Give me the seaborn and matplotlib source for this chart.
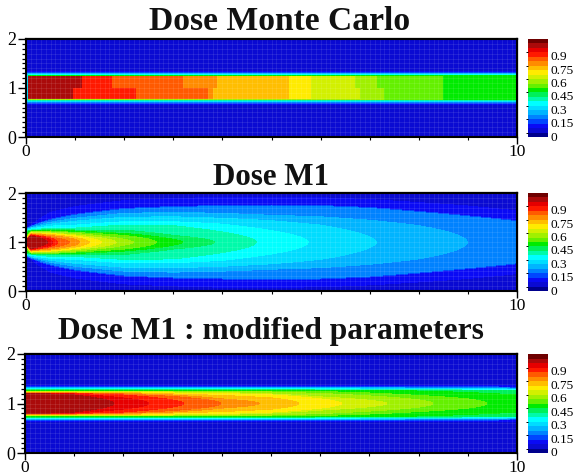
import numpy as np
import seaborn as sns
import matplotlib
matplotlib.use("Agg")
import matplotlib.pyplot as plt
from matplotlib.colors import ListedColormap
from matplotlib.transforms import ScaledTranslation

plt.rcParams['font.family'] = ['Liberation Serif', 'DejaVu Serif']

titles = ["Dose Monte Carlo", "Dose M1", "Dose M1 : modified parameters"]
title_sizes = [24.2, 22.3, 22.7]
colorbar_ticks = [0, 0.15, 0.3, 0.45, 0.6, 0.75, 0.9]
colorbar_labels = ["0", "0.15", "0.3", "0.45", "0.6", "0.75", "0.9"]
band_colors = [(0, 0, 140), (10, 10, 210), (10, 10, 245), (0, 70, 255), (0, 130, 255), (0, 180, 255),
               (0, 220, 255), (0, 255, 255), (0, 250, 170), (0, 240, 90), (0, 235, 0), (100, 240, 0),
               (160, 240, 0), (210, 240, 0), (255, 235, 0), (255, 190, 0), (255, 140, 0), (255, 90, 0),
               (255, 25, 0), (230, 0, 0), (170, 10, 10), (110, 0, 0)]
background_dose = 0.025

# Monte Carlo: dose bands, where each band ends along the beam, and its half width
mc_levels = [0.075, 0.125, 0.175, 0.225, 0.275, 0.325, 0.375, 0.425, 0.475, 0.525, 0.575,
             0.625, 0.675, 0.725, 0.775, 0.825, 0.875, 0.975]
mc_end_upper = [10, 10, 10, 10, 10, 10, 10, 10, 10, 8.5, 7.15, 6.7, 5.8, 5.35, 3.9, 3.2, 1.75, 1.15]
mc_end_lower = [10, 10, 10, 10, 10, 10, 10, 10, 10, 8.5, 7.3, 6.8, 5.8, 5.35, 3.8, 3.7, 2.25, 0.95]
mc_half_width = [0.345, 0.325, 0.31, 0.30, 0.29, 0.28, 0.27, 0.26, 0.25, 0.245, 0.24,
                 0.235, 0.23, 0.23, 0.23, 0.23, 0.23, 0.23]

# M1: half width of each iso-dose region at fixed stations along the beam
m1_stations = [0, 0.1, 0.5, 1, 2, 3, 4, 5, 6, 7, 8, 9, 10]
m1_levels = [0.075, 0.125, 0.175, 0.225, 0.275, 0.325, 0.375, 0.425, 0.475, 0.525,
             0.575, 0.625, 0.675, 0.725, 0.775, 0.825, 0.875, 0.925, 0.975]
m1_tips = [99, 99, 99, 9.0, 7.15, 5.76, 4.7, 3.86, 3.2, 2.67, 2.2, 1.85, 1.55, 1.3, 1.1, 0.9, 0.66, 0.55, 0.45]
m1_half_width = [
    [.30, .36, .62, .74, .86, .90, .93, .93, .92, .88, .82, .75, .65],
    [.29, .34, .48, .58, .70, .74, .76, .77, .76, .72, .64, .55, .45],
    [.28, .33, .46, .56, .68, .72, .74, .75, .74, .70, .62, .53, .43],
    [.27, .31, .42, .50, .60, .62, .60, .56, .53, .46, .35, 0, 0],
    [.26, .30, .38, .44, .52, .53, .50, .45, .36, .12, 0, 0, 0],
    [.25, .28, .34, .36, .43, .43, .38, .25, 0, 0, 0, 0, 0],
    [.24, .26, .30, .30, .36, .35, .22, 0, 0, 0, 0, 0, 0],
    [.23, .25, .27, .26, .26, .15, 0, 0, 0, 0, 0, 0, 0],
    [.20, .24, .25, .24, .19, .07, 0, 0, 0, 0, 0, 0, 0],
    [.15, .23, .24, .21, .15, 0, 0, 0, 0, 0, 0, 0, 0],
    [.10, .22, .22, .19, .07, 0, 0, 0, 0, 0, 0, 0, 0],
    [.08, .21, .20, .16, 0, 0, 0, 0, 0, 0, 0, 0, 0],
    [.06, .20, .19, .14, 0, 0, 0, 0, 0, 0, 0, 0, 0],
    [.05, .19, .17, .11, 0, 0, 0, 0, 0, 0, 0, 0, 0],
    [.04, .18, .15, .07, 0, 0, 0, 0, 0, 0, 0, 0, 0],
    [.03, .17, .12, 0, 0, 0, 0, 0, 0, 0, 0, 0, 0],
    [.02, .16, .10, 0, 0, 0, 0, 0, 0, 0, 0, 0, 0],
    [.01, .15, .07, 0, 0, 0, 0, 0, 0, 0, 0, 0, 0],
    [.005, .14, 0, 0, 0, 0, 0, 0, 0, 0, 0, 0, 0],
]

# M1 with modified parameters
mod_stations = [0, 0.05, 0.5, 1, 2, 3, 4, 5, 6, 7, 8, 9, 10]
mod_levels = [0.075, 0.125, 0.175, 0.225, 0.275, 0.325, 0.375, 0.425, 0.475, 0.525,
              0.575, 0.625, 0.675, 0.725, 0.775, 0.825, 0.875, 0.925, 0.975]
mod_tips = [99, 99, 99, 99, 99, 99, 99, 99, 99, 9.4, 8.3, 7.36, 6.44, 5.56, 4.78, 4.0, 3.24, 2.53, 1.82]
mod_half_width = [
    [.38, .38, .38, .38, .38, .38, .38, .38, .38, .38, .38, .37, .37],
    [.35, .35, .35, .35, .35, .35, .35, .35, .35, .35, .35, .345, .34],
    [.335, .335, .335, .335, .335, .335, .335, .335, .335, .335, .33, .33, .32],
    [.325, .325, .325, .325, .325, .325, .325, .325, .325, .325, .32, .315, .31],
    [.315, .315, .315, .315, .315, .315, .315, .315, .315, .31, .31, .305, .30],
    [.305, .305, .305, .305, .305, .305, .305, .305, .305, .30, .30, .295, .285],
    [.295, .295, .295, .295, .295, .295, .295, .295, .295, .29, .285, .28, .275],
    [.285, .285, .285, .285, .285, .285, .285, .285, .28, .28, .275, .27, .265],
    [.27, .27, .27, .27, .27, .27, .27, .27, .27, .265, .26, .23, .18],
    [.26, .26, .26, .26, .26, .26, .26, .26, .25, .22, .17, .10, 0],
    [.25, .25, .25, .25, .25, .25, .25, .24, .21, .16, .08, 0, 0],
    [.24, .24, .24, .24, .24, .24, .23, .20, .14, .07, 0, 0, 0],
    [.235, .235, .235, .235, .235, .22, .21, .18, .10, 0, 0, 0, 0],
    [.23, .23, .23, .23, .23, .20, .17, .12, 0, 0, 0, 0, 0],
    [.22, .22, .22, .22, .21, .18, .10, 0, 0, 0, 0, 0, 0],
    [.215, .215, .215, .215, .20, .15, 0, 0, 0, 0, 0, 0, 0],
    [.21, .21, .21, .21, .18, .08, 0, 0, 0, 0, 0, 0, 0],
    [.205, .205, .205, .20, .12, 0, 0, 0, 0, 0, 0, 0, 0],
    [.20, .20, .20, .18, 0, 0, 0, 0, 0, 0, 0, 0, 0],
]

NX, NY = 491, 196
x_cells = (np.arange(NX) + 0.5) * 10 / NX
y_cells = 2 - (np.arange(NY) + 0.5) * 2 / NY
X, Y = np.meshgrid(x_cells, y_cells)
D = np.abs(Y - 1)


def paint_flat(levels, upper, lower, widths):
    out = np.full(X.shape, background_dose)
    for v, up, lo, hw in zip(levels, upper, lower, widths):
        end = np.where(Y >= 1, up, lo)
        start = 0.05 if v > 0.3 else 0.015
        out[(D <= hw) & (X <= end) & (X >= start)] = v
    return out


def paint_round(stations, levels, tips, widths):
    out = np.full(X.shape, background_dose)
    st = np.array(stations, float)
    for v, tip, row in zip(levels, tips, widths):
        row = np.array(row, float)
        keep = st < tip
        xp = np.append(st[keep], tip)
        fp = np.append(row[keep] ** 2, 0)
        hw = np.sqrt(np.interp(X, xp, fp))
        out[(D <= hw) & (X <= tip)] = v
    return out


panels = [paint_flat(mc_levels, mc_end_upper, mc_end_lower, mc_half_width),
          paint_round(m1_stations, m1_levels, m1_tips, m1_half_width),
          paint_round(mod_stations, mod_levels, mod_tips, mod_half_width)]

W, H = 573, 476
fig = plt.figure(figsize=(W / 100, H / 100), dpi=100)
cmap = ListedColormap(np.array(band_colors) / 255)
boxes = [(26, 517, 39, 137), (26, 517, 193, 291), (25, 517, 354, 453)]
title_pos = [(279.5, 30), (271, 185), (271, 339)]

for data, box, title, tp, fs in zip(panels, boxes, titles, title_pos, title_sizes):
    l, r, t, b = box
    ax = fig.add_axes([l / W, 1 - b / H, (r - l) / W, (b - t) / H])
    cax = fig.add_axes([528 / W, 1 - (b) / H, 20 / W, (b - t) / H])
    sns.heatmap(data, ax=ax, cmap=cmap, vmin=-0.05, vmax=1.05, cbar_ax=cax,
                xticklabels=False, yticklabels=False, rasterized=True,
                cbar_kws={"ticks": colorbar_ticks})

    # faint lighter mesh seen over the field
    ax.vlines(np.arange(0.1, 10, 0.1) * NX / 10, 0, NY, colors="white", alpha=0.10, linewidth=0.6)
    ax.hlines(np.arange(0.1, 2, 0.1) * NY / 2, 0, NX, colors="white", alpha=0.10, linewidth=0.6)

    sx = NX / 10
    to_y = lambda v: NY - np.asarray(v) * NY / 2
    ax.set_xticks([0, NX])
    ax.set_xticklabels(["0", "10"], fontsize=12.5, rotation=0)
    ax.set_xticks(np.arange(1, 10) * sx, minor=True)
    ax.set_yticks(to_y([0, 1, 2]))
    ax.set_yticklabels(["0", "1", "2"], fontsize=13, rotation=0)
    ax.set_yticks(to_y([k / 10 for k in range(21) if k % 10]), minor=True)
    ax.tick_params(axis="x", which="major", length=5, width=1, pad=0.3, direction="out")
    ax.tick_params(axis="x", which="minor", length=2.2, width=0.8, direction="out")
    ax.tick_params(axis="y", which="major", length=6, width=1, pad=1, direction="out")
    ax.tick_params(axis="y", which="minor", length=3, width=0.9, direction="out")

    top = ax.secondary_xaxis("top")
    top.set_xticks(np.arange(1, 10) * sx)
    top.set_xticklabels([])
    top.tick_params(direction="in", length=2.2, width=0.8)
    right = ax.secondary_yaxis("right")
    right.set_yticks(to_y([1]))
    right.set_yticklabels([])
    right.set_yticks(to_y([k / 10 for k in range(21) if k % 10]), minor=True)
    right.tick_params(which="major", direction="in", length=6, width=1)
    right.tick_params(which="minor", direction="in", length=2.2, width=0.8)

    for holder in (ax, top, right):
        for s in holder.spines.values():
            s.set_visible(True)
            s.set_linewidth(1.5)
            s.set_color("black")

    cax.tick_params(left=True, right=False, labelleft=False, labelright=True,
                    length=1.8, width=0.7, pad=0, labelsize=9.6)
    cax.set_yticks(colorbar_ticks)
    cax.set_yticklabels(colorbar_labels)
    off = ScaledTranslation(0, -2.5 / 72, fig.dpi_scale_trans)
    for lab in cax.get_yticklabels():
        lab.set_transform(lab.get_transform() + off)
    for s in cax.spines.values():
        s.set_visible(False)

    fig.text(tp[0] / W, 1 - tp[1] / H, title, ha="center", va="baseline",
             fontsize=fs, fontweight="bold", color="#111111")

fig.savefig("out.png", dpi=100)
